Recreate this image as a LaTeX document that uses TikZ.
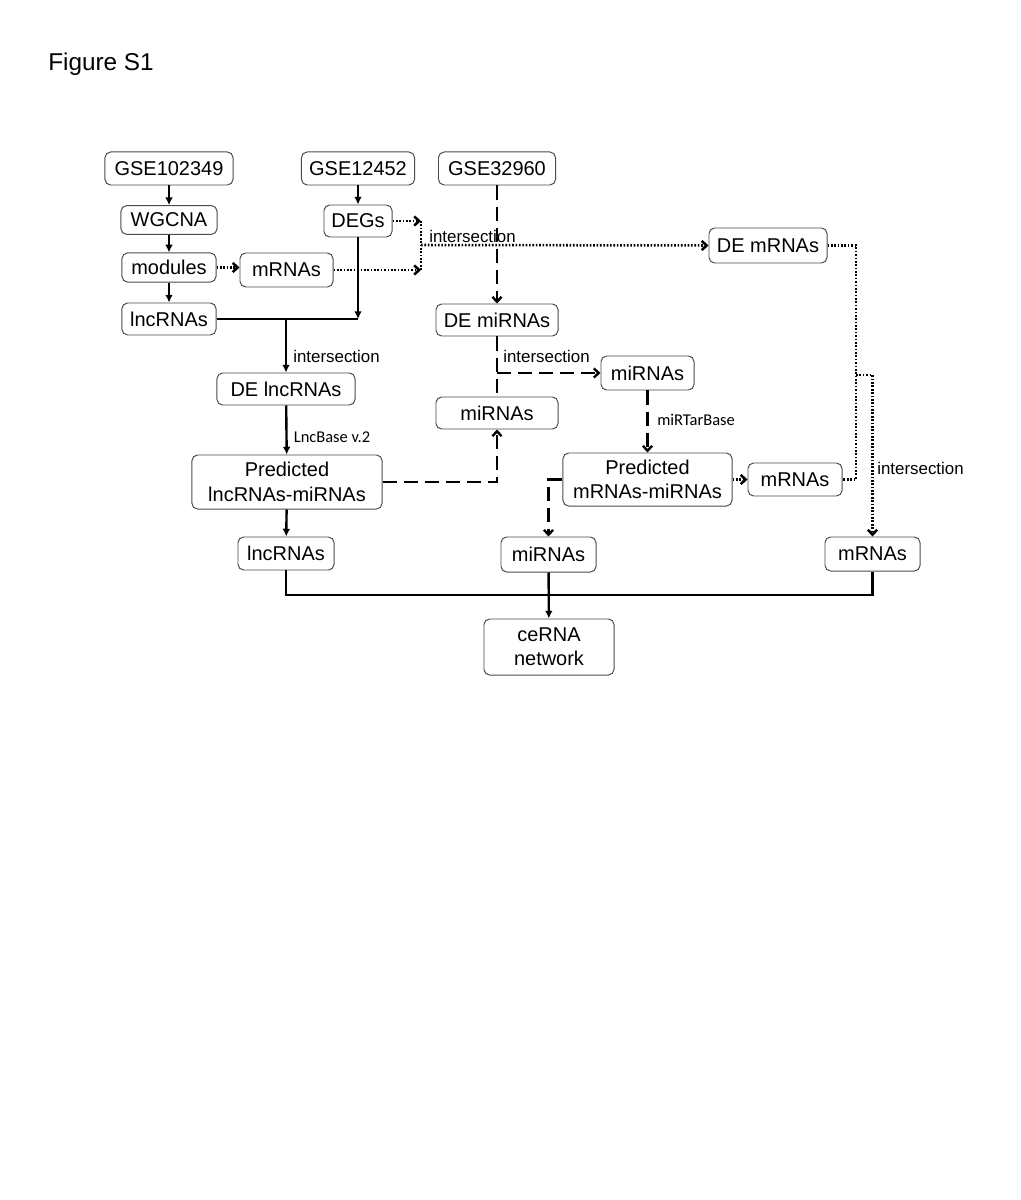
\documentclass[tikz,border=0pt]{standalone}
\usepackage{fontspec}
\setmainfont{Liberation Sans}
\newfontfamily\calfont{Carlito}
\usetikzlibrary{arrows.meta,positioning}
\definecolor{boxgray}{gray}{0.3}

\begin{document}
\begin{tikzpicture}[x=0.025cm,y=-0.025cm,every node/.style={font=\fontsize{14.2}{17.5}\selectfont},
  box/.style={draw=boxgray,line width=.7pt,rounded corners=4pt,minimum height=0.825cm,inner sep=0pt,align=center},
  lbl/.style={font=\fontsize{12}{14}\selectfont,inner sep=1pt},
  dblbl/.style={font=\calfont\fontsize{11.7}{14}\selectfont,inner sep=1pt},
  solidln/.style={line width=1.7pt},
  dashln/.style={line width=1.7pt,dash pattern=on 10pt off 5pt},
  dotln/.style={line width=1.8pt,dash pattern=on 1.2pt off 1.2pt},
  arr/.style={-{Latex[length=5.5pt,width=5.5pt]}},
  barb/.style={-{Straight Barb[length=3.5pt,width=6.5pt]}}]
\path[fill=white,use as bounding box] (0,0) rectangle (1020,1200);
\node[font=\fontsize{17.3}{20}\selectfont,anchor=base west,inner sep=0pt] (title) at (48,70.7) {Figure S1};
\node[box,minimum width=3.2cm] (gseA) at (169,168.5) {GSE102349};
\node[box,minimum width=2.825cm] (gseB) at (358,168.5) {GSE12452};
\node[box,minimum width=2.925cm] (gseC) at (497,168.5) {GSE32960};
\node[box,minimum width=2.4cm,minimum height=0.72cm] (wgcna) at (169,220) {WGCNA};
\node[box,minimum width=1.7cm,minimum height=0.8cm] (degs) at (358,221) {DEGs};
\node[box,minimum width=2.35cm,minimum height=0.73cm] (modules) at (169,267.5) {modules};
\node[box,minimum width=2.325cm,minimum height=0.85cm] (mrnaA) at (286.5,270) {mRNAs};
\node[box,minimum width=2.35cm,minimum height=0.8cm] (lncA) at (169,319) {lncRNAs};
\node[box,minimum width=2.95cm,minimum height=0.875cm] (demrna) at (768,245.5) {DE mRNAs};
\node[box,minimum width=3.05cm,minimum height=0.8cm] (demirna) at (497,320) {DE miRNAs};
\node[box,minimum width=3.45cm,minimum height=0.8cm] (delnc) at (286,389) {DE lncRNAs};
\node[box,minimum width=3.05cm,minimum height=0.8cm] (mirnaB) at (497,413) {miRNAs};
\node[box,minimum width=2.325cm,minimum height=0.85cm] (mirnaC) at (647.5,373) {miRNAs};
\node[box,minimum width=4.75cm,minimum height=1.35cm] (predL) at (287,482) {Predicted\\lncRNAs-miRNAs};
\node[box,minimum width=4.225cm,minimum height=1.325cm] (predM) at (647.5,479.5) {Predicted\\mRNAs-miRNAs};
\node[box,minimum width=2.35cm] (mrnaD) at (795,479.5) {mRNAs};
\node[box,minimum width=2.4cm] (lncE) at (286,553.5) {lncRNAs};
\node[box,minimum width=2.375cm,minimum height=0.875cm] (mirnaE) at (548.5,554.5) {miRNAs};
\node[box,minimum width=2.375cm,minimum height=0.85cm] (mrnaE) at (872.5,554) {mRNAs};
\node[box,minimum width=3.25cm,minimum height=1.4cm,font=\fontsize{14.2}{17}\selectfont] (cerna) at (549,647) {ceRNA\\network};
\node[lbl] (isecA) at (472.5,236) {intersection};
\node[lbl] (isecB) at (336.5,356) {intersection};
\node[lbl] (isecC) at (546.5,356) {intersection};
\node[lbl] (isecD) at (920.5,468) {intersection};
\node[dblbl] (lncbase) at (332,437) {LncBase v.2};
\node[dblbl] (mirtar) at (696,420) {miRTarBase};
\coordinate (meet) at (421,245);
\coordinate (riser) at (856,375);
\coordinate (bus) at (549,595);
\draw[solidln,arr] (gseA) -- (wgcna);
\draw[solidln,arr] (wgcna) -- (modules);
\draw[solidln,arr] (modules) -- (lncA);
\draw[solidln,arr] (gseB) -- (degs);
\draw[dotln,barb] (modules.east) -- (modules.east -| mrnaA.west);
\draw[dotln,barb] (degs.east) -- (degs.east -| meet);
\draw[dotln,barb] (mrnaA.east) -- (mrnaA.east -| meet);
\draw[dotln] (degs.east -| meet) -- (mrnaA.east -| meet);
\draw[dotln,barb] (meet) -- (demrna.west);
\draw[dashln,barb] (gseC) -- (demirna);
\draw[solidln] (lncA.east) -- (degs.south |- lncA.east);
\draw[solidln,arr] (degs) -- (degs.south |- lncA.east);
\draw[solidln,arr] (delnc.north |- lncA.east) -- (delnc);
\draw[solidln,arr] (delnc) -- (predL);
\draw[dashln,barb] (predL.east) -| (mirnaB.south);
\draw[dashln] (demirna) -- (mirnaB);
\draw[dashln,barb] (demirna.south |- mirnaC.west) -- (mirnaC.west);
\draw[dashln,barb] (mirnaC) -- (predM);
\draw[dotln,barb] (predM) -- (mrnaD);
\draw[dotln] (demrna.east) -| (riser |- mrnaD.east) -- (mrnaD.east);
\draw[dotln,barb] (riser) -| (mrnaE.north);
\draw[dashln,barb] (predM.west) -| (mirnaE.north);
\draw[solidln,arr] (predL) -- (lncE);
\draw[solidln] (lncE.south) |- (bus) -| (mrnaE.south);
\draw[solidln,arr] (mirnaE) -- (cerna);
\end{tikzpicture}
\end{document}
